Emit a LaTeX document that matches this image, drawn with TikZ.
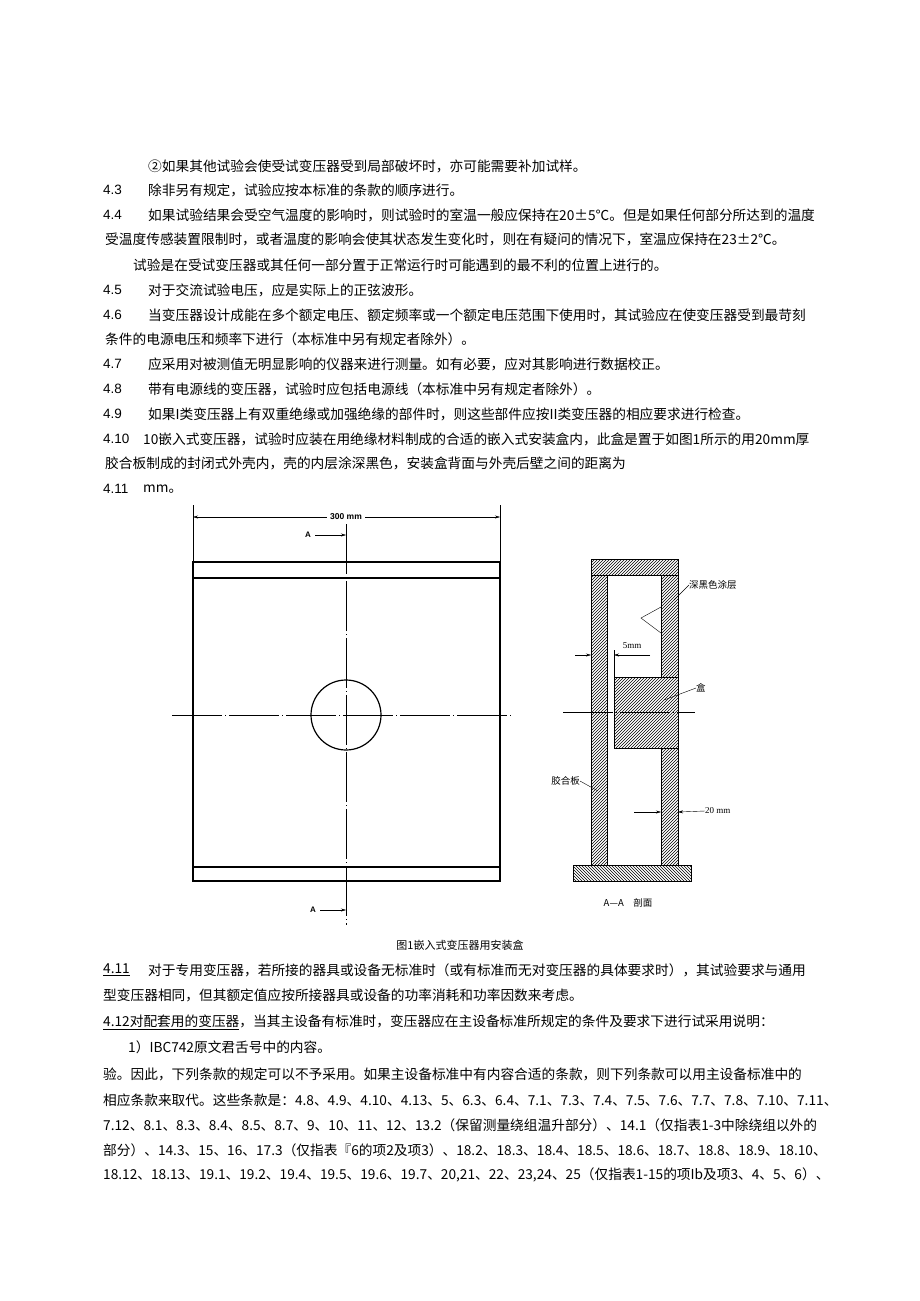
\documentclass[tikz,border=0pt]{standalone}
\usepackage{fontspec}
\setmainfont{Liberation Serif}
\newfontfamily\cjk{Noto Sans CJK SC}
\newfontfamily\numfont{Liberation Sans}
\usetikzlibrary{patterns,arrows.meta}
\tikzset{
  txt/.style={anchor=west,inner sep=0pt,font=\cjk\fontsize{13.7}{15}\selectfont},
  num/.style={anchor=west,inner sep=0pt,font=\numfont\fontsize{13.5}{15}\selectfont},
  lbl/.style={inner sep=0pt,font=\cjk\fontsize{9.5}{10}\selectfont},
  centreline/.style={thin,dash pattern=on 50pt off 3pt on 1pt off 3pt},
  wall/.style={draw,line width=1pt,pattern=north east lines},
  dimarrow/.style={-{Stealth[length=5pt,width=3pt]},thin}
}
\begin{document}
\begin{tikzpicture}[x=1pt,y=-1pt]
\useasboundingbox (0,0) rectangle (920,1301);
% text above the figure
\node[txt] (l1) at (148,166) {②如果其他试验会使受试变压器受到局部破坏时，亦可能需要补加试样。};
\node[num] (n43) at (103,190) {4.3};
\node[txt] (l43) at (148,190) {除非另有规定，试验应按本标准的条款的顺序进行。};
\node[num] (n44) at (103,215) {4.4};
\node[txt] (l44) at (148,215) {如果试验结果会受空气温度的影响时，则试验时的室温一般应保持在20±5℃。但是如果任何部分所达到的温度};
\node[txt] (l44b) at (105,239) {受温度传感装置限制时，或者温度的影响会使其状态发生变化时，则在有疑问的情况下，室温应保持在23±2℃。};
\node[txt] (l44c) at (133,265) {试验是在受试变压器或其任何一部分置于正常运行时可能遇到的最不利的位置上进行的。};
\node[num] (n45) at (103,290) {4.5};
\node[txt] (l45) at (148,290) {对于交流试验电压，应是实际上的正弦波形。};
\node[num] (n46) at (103,315) {4.6};
\node[txt] (l46) at (148,315) {当变压器设计成能在多个额定电压、额定频率或一个额定电压范围下使用时，其试验应在使变压器受到最苛刻};
\node[txt] (l46b) at (105,339) {条件的电源电压和频率下进行（本标准中另有规定者除外）。};
\node[num] (n47) at (103,364) {4.7};
\node[txt] (l47) at (148,364) {应采用对被测值无明显影响的仪器来进行测量。如有必要，应对其影响进行数据校正。};
\node[num] (n48) at (103,389) {4.8};
\node[txt] (l48) at (148,389) {带有电源线的变压器，试验时应包括电源线（本标准中另有规定者除外）。};
\node[num] (n49) at (103,414) {4.9};
\node[txt] (l49) at (148,414) {如果I类变压器上有双重绝缘或加强绝缘的部件时，则这些部件应按II类变压器的相应要求进行检查。};
\node[num] (n410) at (103,439) {4.10};
\node[txt] (l410) at (143,439) {10嵌入式变压器，试验时应装在用绝缘材料制成的合适的嵌入式安装盒内，此盒是置于如图1所示的用20mm厚};
\node[txt] (l410b) at (105,463) {胶合板制成的封闭式外壳内，壳的内层涂深黑色，安装盒背面与外壳后壁之间的距离为};
\node[num] (n411) at (103,489) {4.11};
\node[txt] (l411) at (143,489) {mm。};
% front view
\draw[line width=1.3pt] (193,562) rectangle (500,881);
\draw[line width=1.3pt] (193,578) -- (500,578);
\draw[line width=1.3pt] (193,867) -- (500,867);
\draw[thin] (193,505) -- (193,562);
\draw[thin] (500,505) -- (500,562);
\node[lbl,font=\numfont\bfseries\fontsize{8.5}{9}\selectfont,fill=white,inner sep=3pt] (dim300) at (346,517) {300 mm};
\draw[dimarrow] (dim300.west) -- (193,517);
\draw[dimarrow] (dim300.east) -- (500,517);
\draw[centreline] (346,524) -- (346,925);
\draw[centreline] (172,715) -- (512,715);
\draw[line width=1.2pt] (346,715) circle (35);
\node[lbl,font=\numfont\bfseries\fontsize{8}{9}\selectfont] (secA1) at (308,535) {A};
\node[lbl,font=\numfont\bfseries\fontsize{8}{9}\selectfont] (secA2) at (313,910) {A};
\draw[dimarrow] (secA1.east) ++(4,0) -- (346,535);
\draw[dimarrow] (secA2.east) ++(4,0) -- (346,910);
% section A-A
\draw[wall] (591,559) rectangle (678,575);
\draw[wall] (591,575) rectangle (607,865);
\draw[wall] (661,575) rectangle (678,677);
\draw[wall] (661,748) rectangle (678,865);
\draw[draw,line width=1pt,pattern=north east lines] (614,677) rectangle (678,748);
\draw[draw,line width=1pt,pattern=north west lines] (573,865) rectangle (691,881);
\draw[thin] (661,607) -- (641,618) -- (661,633);
\draw[centreline] (563,712) -- (695,712);
% labels of the section
\node[lbl,anchor=west] (coat) at (689,585) {深黑色涂层};
\draw[thin] (coat.west) -- (674,600);
\node[lbl,font=\fontsize{9}{10}\selectfont] (gap5) at (632,646) {5mm};
\draw[thin] (614,650) -- (614,677);
\draw[dimarrow] (575,655) -- (591,655);
\draw[dimarrow] (650,655) -- (614,655);
\node[lbl,anchor=west] (box) at (696,688) {盒};
\draw[thin] (box.west) -- (664,700);
\node[lbl,anchor=east] (ply) at (580,781) {胶合板};
\draw[thin] (ply.east) -- (598,791);
\node[lbl,anchor=west,font=\fontsize{9}{10}\selectfont] (wall20) at (705,811) {20 mm};
\draw[dimarrow] (634,812) -- (661,812);
\draw[dimarrow] (wall20.west) -- (678,812);
\node[lbl] (cut) at (628,903) {A—A\quad 剖面};
\node[lbl,font=\cjk\fontsize{11}{12}\selectfont] (cap) at (460,945) {图1嵌入式变压器用安装盒};
% text below the figure
\node[txt] (n411b) at (103,970) {\underline{4.11}};
\node[txt] (l411b) at (148,970) {对于专用变压器，若所接的器具或设备无标准时（或有标准而无对变压器的具体要求时），其试验要求与通用};
\node[txt] (l411c) at (103,995) {型变压器相同，但其额定值应按所接器具或设备的功率消耗和功率因数来考虑。};
\node[txt] (l412) at (103,1022) {\underline{4.12对配套用的变压器}，当其主设备有标准时，变压器应在主设备标准所规定的条件及要求下进行试采用说明：};
\node[txt] (l412a) at (128,1047) {1）IBC742原文君舌号中的内容。};
\node[txt] (l412b) at (103,1074) {验。因此，下列条款的规定可以不予采用。如果主设备标准中有内容合适的条款，则下列条款可以用主设备标准中的};
\node[txt] (l412c) at (103,1100) {相应条款来取代。这些条款是：4.8、4.9、4.10、4.13、5、6.3、6.4、7.1、7.3、7.4、7.5、7.6、7.7、7.8、7.10、7.11、};
\node[txt] (l412d) at (103,1125) {7.12、8.1、8.3、8.4、8.5、8.7、9、10、11、12、13.2（保留测量绕组温升部分）、14.1（仅指表1-3中除绕组以外的};
\node[txt] (l412e) at (103,1150) {部分）、14.3、15、16、17.3（仅指表『6的项2及项3）、18.2、18.3、18.4、18.5、18.6、18.7、18.8、18.9、18.10、};
\node[txt] (l412f) at (103,1175) {18.12、18.13、19.1、19.2、19.4、19.5、19.6、19.7、20,21、22、23,24、25（仅指表1-15的项Ib及项3、4、5、6）、};
\end{tikzpicture}
\end{document}
